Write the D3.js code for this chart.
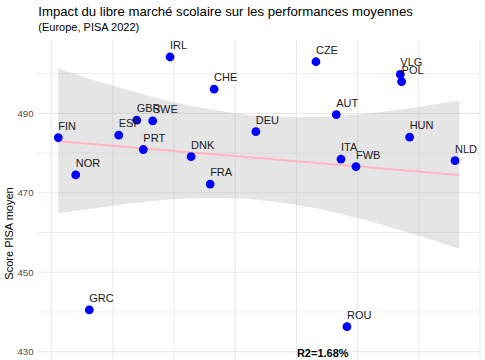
<!DOCTYPE html>
<html>
<head>
<meta charset="utf-8">
<script src="https://cdn.jsdelivr.net/npm/d3@7"></script>
<style>
  html, body { margin: 0; padding: 0; background: #fff; }
  svg { display: block; font-family: "Liberation Sans", Arial, Helvetica, sans-serif; }
</style>
</head>
<body>
<svg id="chart" width="485" height="360"></svg>
<script>
// ---- Data ----
const countries = ["FIN","NOR","GRC","ESP","GBR","SWE","PRT","IRL","DNK","FRA","CHE",
                   "DEU","CZE","AUT","ITA","ROU","FWB","VLG","POL","HUN","NLD"];
const marketIndex = [0.108, 0.393, 0.615, 1.096, 1.390, 1.652, 1.498, 1.935, 2.279, 2.590, 2.655,
                     3.337, 4.319, 4.651, 4.728, 4.826, 4.973, 5.698, 5.719, 5.850, 6.592];
const pisaScore = [483.9, 474.5, 440.5, 484.5, 488.3, 488.1, 480.9, 504.2, 479.1, 472.2, 496.1,
                   485.4, 503.0, 489.7, 478.5, 436.3, 476.6, 499.8, 498.0, 484.0, 478.1];

// regression line and its confidence band
const fitX = [0.108, 6.663];
const fitY = [483.0, 474.5];
const bandX    = [0.108, 0.463, 0.954, 1.444, 1.935, 2.426, 2.917, 3.408, 3.898, 4.389, 4.880, 5.371, 5.861, 6.352, 6.663];
const bandHigh = [501.3, 499.5, 497.2, 495.0, 493.0, 491.4, 490.2, 489.3, 489.0, 489.1, 489.6, 490.3, 491.3, 492.5, 493.2];
const bandLow  = [464.8, 465.6, 466.7, 467.6, 468.3, 468.7, 468.7, 468.2, 467.2, 465.9, 464.1, 462.1, 459.8, 457.5, 455.9];

const yMajor = [430, 450, 470, 490];
const yMinor = [440, 460, 480, 500];
const xGrid  = [0, 1, 2, 3, 4, 5, 6, 7];

const titleText = "Impact du libre marché scolaire sur les performances moyennes";
const subtitleText = "(Europe, PISA 2022)";
const yTitle = "Score PISA moyen";
const r2Text = "R2=1.68%";
const r2Pos = {x: 4.43, y: 429.6};

// ---- Layout ----
const svg = d3.select("#chart");
const panel = {left: 38.2, right: 480, top: 39, bottom: 360};

const x = d3.scaleLinear().domain([-0.22, 7.0]).range([panel.left, panel.right]);
const y = d3.scaleLinear().domain([427.9, 508.73]).range([panel.bottom, panel.top]);

// grid
const g = svg.append("g");
g.selectAll("line.ymin").data(yMinor).join("line")
  .attr("x1", panel.left).attr("x2", panel.right)
  .attr("y1", d => y(d)).attr("y2", d => y(d))
  .attr("stroke", "#ededed").attr("stroke-width", 1);
g.selectAll("line.ymaj").data(yMajor).join("line")
  .attr("x1", panel.left).attr("x2", panel.right)
  .attr("y1", d => y(d)).attr("y2", d => y(d))
  .attr("stroke", "#ebebeb").attr("stroke-width", 1.1);
g.selectAll("line.xg").data(xGrid).join("line")
  .attr("x1", d => x(d)).attr("x2", d => x(d))
  .attr("y1", panel.top).attr("y2", panel.bottom)
  .attr("stroke", "#ebebeb").attr("stroke-width", 1.1);

// y axis tick labels
svg.append("g").selectAll("text").data(yMajor).join("text")
  .attr("x", 33.5).attr("y", d => y(d))
  .attr("dy", "0.35em")
  .attr("text-anchor", "end")
  .attr("font-size", 9.6)
  .attr("fill", "#4d4d4d")
  .text(d => d);

// confidence band
const bandData = bandX.map((v, i) => ({x: v, lo: bandLow[i], hi: bandHigh[i]}));
svg.append("path")
  .datum(bandData)
  .attr("d", d3.area().x(d => x(d.x)).y0(d => y(d.lo)).y1(d => y(d.hi)).curve(d3.curveMonotoneX))
  .attr("fill", "#999999").attr("fill-opacity", 0.25);

// fit line
svg.append("path")
  .datum(fitX.map((v, i) => ({x: v, y: fitY[i]})))
  .attr("d", d3.line().x(d => x(d.x)).y(d => y(d.y)))
  .attr("fill", "none").attr("stroke", "#FFB6C1").attr("stroke-width", 2);

// points
const pts = countries.map((c, i) => ({c, x: marketIndex[i], y: pisaScore[i]}));
svg.append("g").selectAll("circle").data(pts).join("circle")
  .attr("cx", d => x(d.x)).attr("cy", d => y(d.y)).attr("r", 4.4)
  .attr("fill", "#0000FF");

// point labels
svg.append("g").selectAll("text").data(pts).join("text")
  .attr("x", d => x(d.x)).attr("y", d => y(d.y) - 8)
  .attr("font-size", 11)
  .attr("fill", "#1a1a1a")
  .text(d => d.c);

// R2 annotation
svg.append("text")
  .attr("x", x(r2Pos.x)).attr("y", y(r2Pos.y))
  .attr("dy", "0.35em")
  .attr("text-anchor", "middle")
  .attr("font-size", 11).attr("font-weight", "bold")
  .attr("fill", "#000")
  .text(r2Text);

// titles
svg.append("text").attr("x", 38.3).attr("y", 16)
  .attr("font-size", 13.2).attr("fill", "#000").text(titleText);
svg.append("text").attr("x", 38.3).attr("y", 30.5)
  .attr("font-size", 11).attr("fill", "#000").text(subtitleText);

// y axis title
svg.append("text")
  .attr("transform", "translate(13,233.5) rotate(-90)")
  .attr("text-anchor", "middle")
  .attr("font-size", 11).attr("fill", "#000")
  .text(yTitle);
</script>
</body>
</html>
